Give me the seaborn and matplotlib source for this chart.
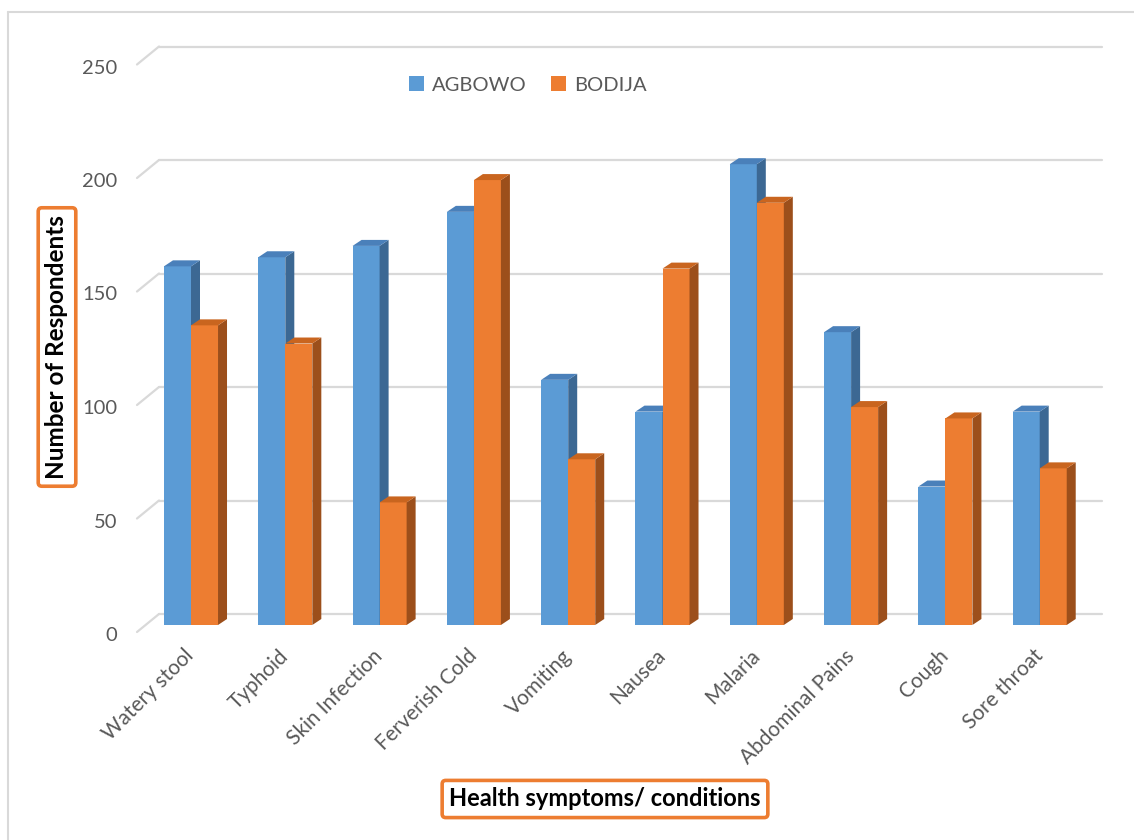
import numpy as np
import pandas as pd
import seaborn as sns
import matplotlib
matplotlib.use("Agg")
import matplotlib.pyplot as plt
from matplotlib.patches import Polygon, Patch
from matplotlib.lines import Line2D
from matplotlib import transforms

categories = ["Watery stool", "Typhoid", "Skin Infection", "Ferverish Cold", "Vomiting",
              "Nausea", "Malaria", "Abdominal Pains", "Cough", "Sore throat"]
agbowo = [158, 162, 167, 182, 108, 94, 203, 129, 61, 94]
bodija = [132, 124, 54, 196, 73, 157, 186, 96, 91, 69]
series = ["AGBOWO", "BODIJA"]
yticks = [0, 50, 100, 150, 200, 250]

df = pd.DataFrame({
    "Condition": categories * 2,
    "Count": agbowo + bodija,
    "Area": [series[0]] * len(categories) + [series[1]] * len(categories),
})

BLUE, ORANGE = "#5B9BD5", "#ED7D31"
BLUE_TOP, BLUE_SIDE = "#4A80BA", "#3C6893"
OR_TOP, OR_SIDE = "#C9651F", "#9C4F1B"
GRID = "#D9D9D9"
TXT = "#595959"

W, H = 1134, 840
sns.set_style("white")
plt.rcParams['font.family'] = ['Lato', 'DejaVu Sans']

fig = plt.figure(figsize=(W / 100, H / 100), dpi=100)
fig.patch.set_facecolor("white")

# bar plane: y=0 at px 625, 250 at px 57.5 ; x from 148 to 1083
ax_l, ax_r, ax_b, ax_t = 148, 1083, 625, 57.5
ax = fig.add_axes([ax_l / W, (H - ax_b) / H, (ax_r - ax_l) / W, (ax_b - ax_t) / H])
ax.set_facecolor("none")

sns.barplot(data=df, x="Condition", y="Count", hue="Area", palette=[BLUE, ORANGE],
            width=0.573, saturation=1, linewidth=0, legend=False, ax=ax, zorder=2)

ppc = 94.3  # pixels per category
x0 = -(191 - ax_l) / ppc
ax.set_xlim(x0, x0 + (ax_r - ax_l) / ppc)
ax.set_ylim(0, 250)
ax.set_yticks(yticks)
for s in ax.spines.values():
    s.set_visible(False)
ax.grid(False)

fig.canvas.draw()
bb = ax.get_window_extent()
px_x = bb.width / (ax.get_xlim()[1] - ax.get_xlim()[0])
px_y = bb.height / 250.0
ddx, ddy = 9 / px_x, 6 / px_y

# 3D faces from the seaborn bars
bars = [p for p in ax.patches]
n = len(categories)
for i, p in enumerate(bars):
    xl, w, h = p.get_x(), p.get_width(), p.get_height()
    xr = xl + w
    is_blue = i < n
    z = 2 if is_blue else 3
    p.set_zorder(z)
    top_c, side_c = (BLUE_TOP, BLUE_SIDE) if is_blue else (OR_TOP, OR_SIDE)
    side = Polygon([(xr, 0), (xr + ddx, ddy), (xr + ddx, h + ddy), (xr, h)],
                   closed=True, fc=side_c, ec="none", zorder=z, clip_on=False)
    top = Polygon([(xl, h), (xl + ddx, h + ddy), (xr + ddx, h + ddy), (xr, h)],
                  closed=True, fc=top_c, ec="none", zorder=z, clip_on=False)
    ax.add_patch(side)
    ax.add_patch(top)

# back-wall gridlines and left-wall diagonals
blend = transforms.blended_transform_factory(transforms.IdentityTransform(), ax.transData)
up = transforms.ScaledTranslation(0, 11 / 100, fig.dpi_scale_trans)
for v in yticks:
    ax.add_line(Line2D([159, 1102], [v, v], transform=blend + up, color=GRID, lw=1.6,
                       zorder=0.5, clip_on=False))
    tr_front = blend + transforms.ScaledTranslation(0, -7 / 100, fig.dpi_scale_trans)
    p_front = tr_front.transform((137, v))
    p_back = (blend + up).transform((159, v))
    ax.add_line(Line2D([p_front[0], p_back[0]], [p_front[1], p_back[1]],
                       transform=transforms.IdentityTransform(), color=GRID, lw=1.6,
                       zorder=0.5, clip_on=False))

# ticks
ax.tick_params(axis="y", length=0, pad=22, labelsize=14.5, labelcolor=TXT)
for lab in ax.get_yticklabels():
    lab.set_transform(lab.get_transform() + transforms.ScaledTranslation(0, -9 / 100, fig.dpi_scale_trans))
ax.tick_params(axis="x", length=0, pad=20, labelsize=15, labelcolor=TXT)
ax.set_xticks(range(n))
ax.set_xticklabels(categories, rotation=45, ha="right", va="center", rotation_mode="anchor")
ax.set_xlabel("")
ax.set_ylabel("")

# legend
handles = [Patch(facecolor=BLUE, edgecolor="none"), Patch(facecolor=ORANGE, edgecolor="none")]
fig.legend(handles, series, loc="center", bbox_to_anchor=(528 / W, 1 - 85 / H), ncol=2,
           frameon=False, handlelength=0.75, handleheight=0.75, handletextpad=0.4,
           columnspacing=1.2, fontsize=14.5, labelcolor=TXT)

# boxed axis titles
fig.text(57 / W, 1 - 347 / H, "Number of Respondents", rotation=90, ha="center", va="center",
         fontsize=17.5, fontweight="bold", color="black",
         bbox=dict(boxstyle="round,pad=0.3,rounding_size=0.15", fc="white", ec=ORANGE, lw=2.6))
fig.text(605 / W, 1 - 799 / H, "Health symptoms/ conditions", ha="center", va="center",
         fontsize=17, fontweight="bold", color="black",
         bbox=dict(boxstyle="round,pad=0.3,rounding_size=0.15", fc="white", ec=ORANGE, lw=2.6))

# chart border (top and left visible)
fig.add_artist(Line2D([8 / W, 1], [1 - 12 / H, 1 - 12 / H], transform=fig.transFigure,
                      color=GRID, lw=1.5))
fig.add_artist(Line2D([8 / W, 8 / W], [0, 1 - 12 / H], transform=fig.transFigure,
                      color=GRID, lw=1.5))

fig.savefig("out.png", dpi=100, facecolor="white")
